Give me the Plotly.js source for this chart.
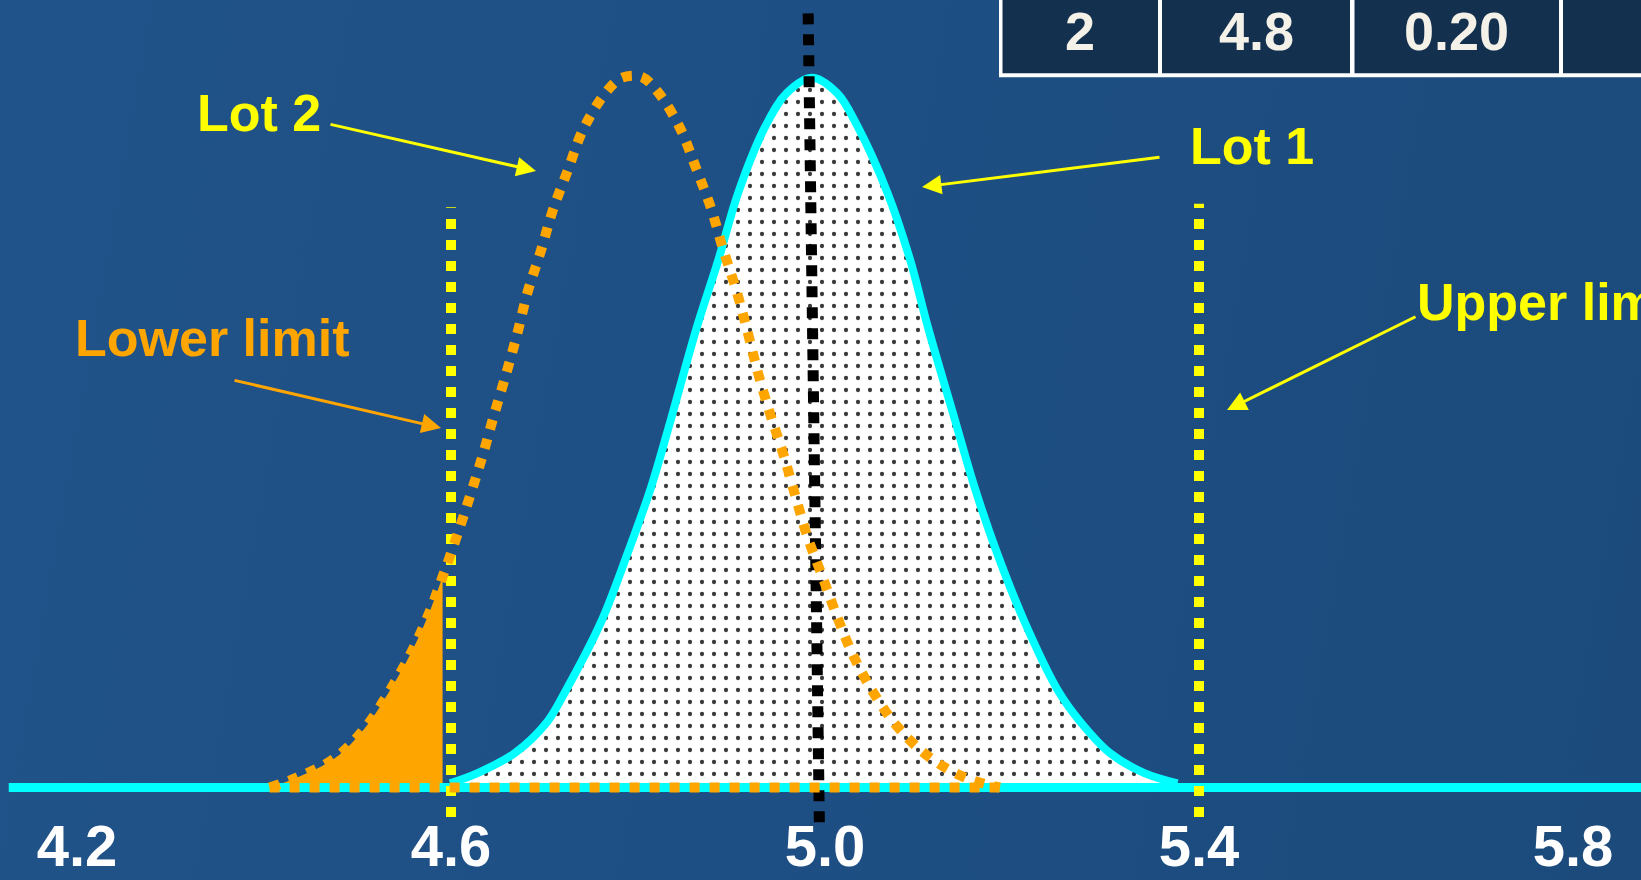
<!DOCTYPE html>
<html>
<head>
<meta charset="utf-8">
<script src="https://cdn.plot.ly/plotly-3.0.1.min.js"></script>
<style>
  html, body { margin: 0; padding: 0; }
  body { width: 1641px; height: 880px; overflow: hidden;
         background: linear-gradient(100deg, #205389 0%, #1e4f84 50%, #1b4a7b 100%); }
  #chart { width: 1641px; height: 880px; }
</style>
</head>
<body>
<div id="chart"></div>
<script>
// ---- data ----
const lot1X = [4.599, 4.629, 4.668, 4.703, 4.723, 4.760, 4.789, 4.814, 4.835, 4.863, 4.886, 4.907, 4.936, 4.959, 4.986,
               5.013, 5.035, 5.067, 5.091, 5.110, 5.139, 5.160, 5.184, 5.214, 5.249, 5.273, 5.305, 5.341, 5.377];
const lot1Y = [0.006, 0.021, 0.049, 0.094, 0.139, 0.235, 0.335, 0.429, 0.525, 0.658, 0.754, 0.849, 0.944, 0.992, 1.014,
               0.992, 0.944, 0.849, 0.754, 0.658, 0.525, 0.429, 0.335, 0.235, 0.139, 0.094, 0.049, 0.021, 0.006];

const lot2X = [4.406, 4.435, 4.476, 4.508, 4.533, 4.556, 4.575, 4.591, 4.606, 4.620, 4.634, 4.646, 4.659, 4.671,
               4.682, 4.696, 4.709, 4.725, 4.741, 4.765, 4.783, 4.804, 4.821, 4.845, 4.862, 4.878, 4.891, 4.905,
               4.917, 4.928, 4.941, 4.955, 4.968, 4.981, 4.997, 5.013, 5.030, 5.052, 5.078, 5.111, 5.150, 5.187];
const lot2Y = [0.000, 0.014, 0.042, 0.085, 0.135, 0.189, 0.244, 0.301, 0.358, 0.415, 0.475, 0.532, 0.591, 0.649,
               0.708, 0.766, 0.825, 0.882, 0.939, 0.992, 1.014, 1.015, 0.994, 0.942, 0.885, 0.828, 0.769, 0.711,
               0.652, 0.594, 0.535, 0.478, 0.418, 0.359, 0.302, 0.244, 0.189, 0.135, 0.086, 0.044, 0.014, 0.000];

const lowerLimit = 4.6;
const upperLimit = 5.4;
const lowerLimitY = [-0.042, 0.829];
const upperLimitY = [-0.042, 0.834];
const meanLineX = [4.982, 4.994];
const meanLineY = [1.106, -0.052];
const baselineX = [4.127, 5.880];

const tickVals = [4.2, 4.6, 5.0, 5.4, 5.8];
const tickText = ['4.2', '4.6', '5.0', '5.4', '5.8'];
const tableRow = ['2', '4.8', '0.20', ''];
const labelLot1 = 'Lot 1';
const labelLot2 = 'Lot 2';
const labelLower = 'Lower limit';
const labelUpper = 'Upper limit';

// ---- layout helpers (pixel -> paper) ----
const W = 1641, H = 880;
const fx = px => px / W;
const fy = py => 1 - py / H;
const FONT = 'Liberation Sans, Arial, Helvetica, sans-serif';

// part of lot 2 that falls below the lower limit
const tailX = [], tailY = [];
lot2X.forEach((x, i) => { if (x < lowerLimit) { tailX.push(x); tailY.push(lot2Y[i]); } });

const traces = [
  { // lot 1 (stippled fill + cyan outline)
    x: lot1X, y: lot1Y, type: 'scatter', mode: 'lines',
    line: { color: '#00ffff', width: 8, shape: 'spline', smoothing: 1 },
    fill: 'tozeroy',
    fillpattern: { shape: '.', bgcolor: '#ffffff', fgcolor: '#3a3a3a', size: 12, solidity: 0.1 },
    hoverinfo: 'skip'
  },
  { // lot 2 tail out of spec
    x: tailX, y: tailY, type: 'scatter', mode: 'lines',
    line: { color: '#ffa500', width: 0, shape: 'spline', smoothing: 1 },
    fill: 'tozeroy', fillcolor: '#ffa500', hoverinfo: 'skip'
  },
  { // cyan baseline
    x: baselineX, y: [0, 0], type: 'scatter', mode: 'lines',
    line: { color: '#00ffff', width: 9 }, hoverinfo: 'skip'
  },
  { // lower limit
    x: [lowerLimit, lowerLimit], y: lowerLimitY, type: 'scatter', mode: 'lines',
    line: { color: '#ffff00', width: 10, dash: '10px,11px' }, hoverinfo: 'skip'
  },
  { // upper limit
    x: [upperLimit, upperLimit], y: upperLimitY, type: 'scatter', mode: 'lines',
    line: { color: '#ffff00', width: 10, dash: '10px,11px' }, hoverinfo: 'skip'
  },
  { // mean line
    x: meanLineX, y: meanLineY, type: 'scatter', mode: 'lines',
    line: { color: '#000000', width: 11, dash: '11px,10px' }, hoverinfo: 'skip'
  },
  { // lot 2 dotted curve
    x: lot2X, y: lot2Y, type: 'scatter', mode: 'lines',
    line: { color: '#ffa500', width: 10, dash: '10px,10px', shape: 'spline', smoothing: 1 },
    hoverinfo: 'skip'
  },
  { // lot 2 dotted baseline
    x: [lot2X[0], lot2X[lot2X.length - 1]], y: [0, 0], type: 'scatter', mode: 'lines',
    line: { color: '#ffa500', width: 10, dash: '10px,10px' }, hoverinfo: 'skip'
  }
];

// table (top-right)
const cellBounds = [[1002.5, 1158], [1162, 1350], [1354.5, 1559], [1563, 1720]];
const shapes = [
  { type: 'rect', xref: 'paper', yref: 'paper', x0: fx(999), x1: fx(1720), y0: fy(77.3), y1: fy(-20),
    fillcolor: '#ffffff', line: { width: 0 }, layer: 'above' }
];
const annotations = [];
cellBounds.forEach((b, i) => {
  shapes.push({ type: 'rect', xref: 'paper', yref: 'paper', x0: fx(b[0]), x1: fx(b[1]), y0: fy(73.3), y1: fy(-20),
    fillcolor: '#13304f', line: { width: 0 }, layer: 'above' });
  if (tableRow[i]) {
    annotations.push({ xref: 'paper', yref: 'paper', x: fx((b[0] + b[1]) / 2), y: 1, text: tableRow[i],
      showarrow: false, xanchor: 'center', yanchor: 'top', borderpad: 0,
      font: { family: FONT, size: 54, color: '#f3f1e8', weight: 'bold' } });
  }
});

// labels
const txt = (text, px, py, color, xanchor) => ({
  xref: 'paper', yref: 'paper', x: fx(px), y: fy(py), text: text, showarrow: false,
  xanchor: xanchor || 'center', yanchor: 'middle',
  font: { family: FONT, size: 52, color: color, weight: 'bold' }
});
annotations.push(txt(labelLot2, 259, 113, '#ffff00'));
annotations.push(txt(labelLot1, 1252, 146, '#ffff00'));
annotations.push(txt(labelLower, 212, 338, '#ffa500'));
annotations.push(txt(labelUpper, 1415, 302, '#ffff00', 'left'));

// arrows
const arrow = (tipX, tipY, tailX, tailY, color) => ({
  xref: 'paper', yref: 'paper', x: fx(tipX), y: fy(tipY), ax: tailX - tipX, ay: tailY - tipY,
  text: '', showarrow: true, arrowhead: 2, arrowsize: 1.3, arrowwidth: 3, arrowcolor: color, standoff: 0
});
annotations.push(arrow(536, 171, 329, 124, '#ffff00'));
annotations.push(arrow(922, 187, 1161, 157, '#ffff00'));
annotations.push(arrow(441, 428, 233, 380, '#ffa500'));
annotations.push(arrow(1227, 410, 1417, 316, '#ffff00'));

const layout = {
  width: W, height: H,
  margin: { l: 0, r: 0, t: 0, b: 0, pad: 0 },
  paper_bgcolor: 'rgba(0,0,0,0)', plot_bgcolor: 'rgba(0,0,0,0)',
  showlegend: false,
  xaxis: {
    range: [4.11765, 5.87273], showgrid: false, zeroline: false, showline: false, ticks: '',
    tickvals: tickVals, ticktext: tickText, ticklabelposition: 'inside', ticklabeloverflow: 'allow',
    ticklabelstandoff: -1,
    tickfont: { family: FONT, size: 58, color: '#ffffff', weight: 'bold' }, fixedrange: true
  },
  yaxis: { range: [-0.13214, 1.125], visible: false, fixedrange: true },
  shapes: shapes,
  annotations: annotations
};

Plotly.newPlot('chart', traces, layout, { staticPlot: true, displayModeBar: false });
</script>
</body>
</html>
